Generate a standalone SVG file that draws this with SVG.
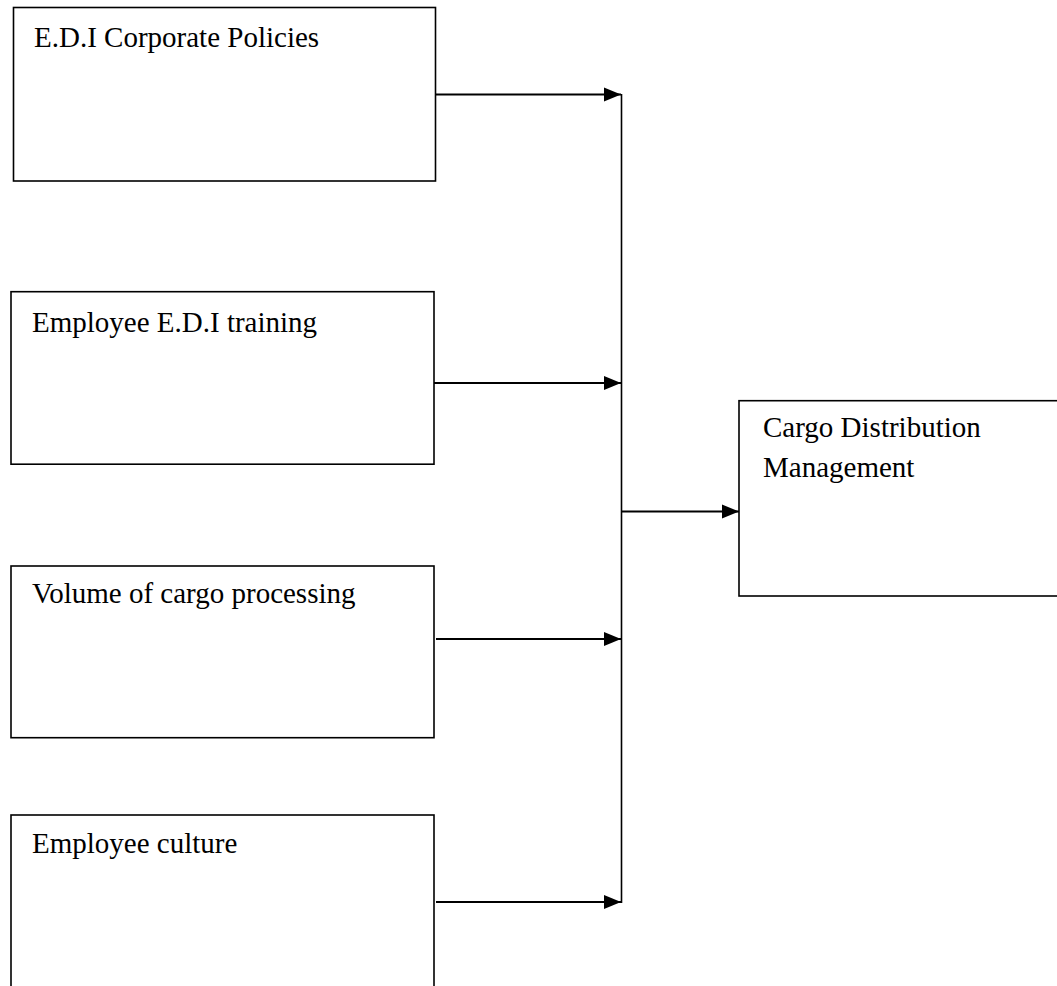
<svg xmlns="http://www.w3.org/2000/svg" width="1057" height="986" viewBox="0 0 1057 986">
<style>
.box{fill:#fff;stroke:#000;stroke-width:1.6}
.lbl{font-family:"Liberation Serif","Times New Roman",serif;font-size:29px;fill:#000}
.conn{stroke:#000;stroke-width:2.2;fill:none}
</style>
<defs>
<marker id="ah" markerUnits="userSpaceOnUse" markerWidth="18" markerHeight="16" refX="17" refY="8" orient="auto">
<path d="M0,1 L17,8 L0,15 Z" fill="#000"/>
</marker>
</defs>
<rect width="1057" height="986" fill="#fff"/>
<g id="node-edi-policies">
<rect class="box" x="13.5" y="7.5" width="422" height="173.5"/>
<text class="lbl" x="34" y="47">E.D.I Corporate Policies</text>
</g>
<g id="node-edi-training">
<rect class="box" x="11" y="291.7" width="423" height="172.5"/>
<text class="lbl" x="32" y="332">Employee E.D.I training</text>
</g>
<g id="node-cargo-volume">
<rect class="box" x="11" y="566" width="423" height="171.7"/>
<text class="lbl" x="32" y="603">Volume of cargo processing</text>
</g>
<g id="node-employee-culture">
<rect class="box" x="11" y="815" width="423" height="200"/>
<text class="lbl" x="32" y="853">Employee culture</text>
</g>
<g id="node-cargo-management">
<rect class="box" x="739" y="400.7" width="340" height="195.3"/>
<text class="lbl" x="763" y="437">Cargo Distribution</text>
<text class="lbl" x="763" y="477">Management</text>
</g>
<g id="connectors">
<line class="conn" x1="436" y1="94.5" x2="621" y2="94.5" marker-end="url(#ah)"/>
<line class="conn" x1="434" y1="383" x2="621" y2="383" marker-end="url(#ah)"/>
<line class="conn" x1="436" y1="639" x2="621" y2="639" marker-end="url(#ah)"/>
<line class="conn" x1="436" y1="902" x2="621" y2="902" marker-end="url(#ah)"/>
<line x1="621.5" y1="94" x2="621.5" y2="903" stroke="#000" stroke-width="1.6"/>
<line class="conn" x1="621.5" y1="511.5" x2="739" y2="511.5" marker-end="url(#ah)"/>
</g>
</svg>
